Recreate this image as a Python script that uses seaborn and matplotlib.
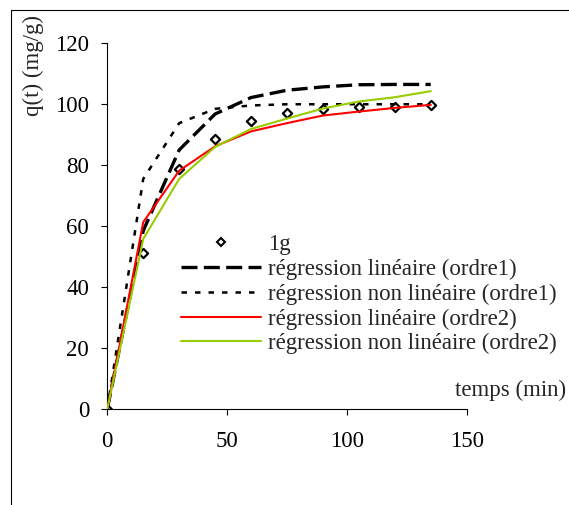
import matplotlib
matplotlib.use("Agg")
import matplotlib.pyplot as plt
import seaborn as sns
import numpy as np
from matplotlib.patches import Rectangle
from matplotlib.lines import Line2D

t = [0, 15, 30, 45, 60, 75, 90, 105, 120, 135]
q_exp = [0, 51.2, 78.8, 88.5, 94.4, 97.0, 98.4, 99.0, 99.0, 99.6]
q_lin1 = [0, 58.5, 85.0, 96.8, 102.2, 104.6, 105.7, 106.4, 106.5, 106.5]
q_nonlin1 = [0, 75.5, 93.8, 98.5, 99.6, 100.0, 100.0, 100.0, 100.0, 100.0]
q_lin2 = [0, 61.3, 78.2, 86.2, 91.1, 93.8, 96.3, 97.6, 98.8, 99.8]
q_nonlin2 = [0, 55.8, 75.5, 86.0, 91.9, 95.3, 98.6, 100.9, 102.3, 104.3]

labels = ["1g", "régression linéaire (ordre1)", "régression non linéaire (ordre1)",
          "régression linéaire (ordre2)", "régression non linéaire (ordre2)"]
xticks = [0, 50, 100, 150]
yticks = [0, 20, 40, 60, 80, 100, 120]

sns.set_style("white")
plt.rcParams['font.family'] = ['Liberation Serif', 'DejaVu Serif']
FS = 16.5

W, H = 569, 505
fig = plt.figure(figsize=(W / 100, H / 100), dpi=100)
ax = fig.add_axes([107.3 / W, 1 - 409 / H, (466.7 - 107.3) / W, (409 - 43.3) / H])

sns.scatterplot(x=t, y=q_exp, ax=ax, marker='D', s=22, facecolor='white',
                edgecolor='black', linewidth=1.6, zorder=2, label=labels[0], legend=False)
sns.lineplot(x=t, y=q_lin1, ax=ax, color='black', linewidth=2.4, zorder=3)
ax.lines[-1].set_dashes([4.8, 1.9])
sns.lineplot(x=t, y=q_nonlin1, ax=ax, color='black', linewidth=1.8, zorder=3)
ax.lines[-1].set_dashes([2.2, 3.2])
sns.lineplot(x=t, y=q_lin2, ax=ax, color='#FF0000', linewidth=1.5, zorder=3)
sns.lineplot(x=t, y=q_nonlin2, ax=ax, color='#99CC00', linewidth=1.5, zorder=3)

ax.set_xlim(0, 150)
ax.set_ylim(0, 120)
ax.set_xticks(xticks)
ax.set_yticks(yticks)
ax.set_xticklabels([str(v) for v in xticks])
ax.set_yticklabels([str(v) for v in yticks])
ax.tick_params(axis='both', which='major', direction='out', length=4, width=0.8,
               colors='black', labelsize=FS, bottom=True, left=True)
ax.tick_params(axis='x', pad=12)
ax.tick_params(axis='y', pad=9)
for s in ['top', 'right']:
    ax.spines[s].set_visible(False)
for s in ['left', 'bottom']:
    ax.spines[s].set_color('black')
    ax.spines[s].set_linewidth(0.8)
ax.grid(False)
ax.set_xlabel('')
ax.set_ylabel('')

# legend
h0 = Line2D([], [], linestyle='none', marker='D', markersize=4.5, markerfacecolor='white',
            markeredgecolor='black', markeredgewidth=1.5)
h1 = Line2D([], [], color='black', linewidth=2.4, dashes=[4.8, 1.9])
h2 = Line2D([], [], color='black', linewidth=1.8, dashes=[2.2, 3.2])
h3 = Line2D([], [], color='#FF0000', linewidth=1.5)
h4 = Line2D([], [], color='#99CC00', linewidth=1.5)
leg = ax.legend([h0, h1, h2, h3, h4], labels, loc='upper left',
                bbox_to_anchor=(181 / W, 1 - 234 / H), bbox_transform=fig.transFigure,
                frameon=False, fontsize=FS, handlelength=3.5, handletextpad=0.3,
                labelspacing=0.16, borderpad=0, borderaxespad=0, numpoints=1)

fig.text(566 / W, 1 - 396 / H, 'temps (min)', ha='right', va='baseline', fontsize=FS)
fig.text(33 / W, 1 - 65 / H, 'q(t) (mg/g)', ha='center', va='center', rotation=90, fontsize=FS)

fig.patches.append(Rectangle((10.5 / W, -0.1), 1.2, 1.1 - 9.5 / H, transform=fig.transFigure,
                             fill=False, edgecolor='black', linewidth=0.8))

fig.savefig('out.png', dpi=100)
